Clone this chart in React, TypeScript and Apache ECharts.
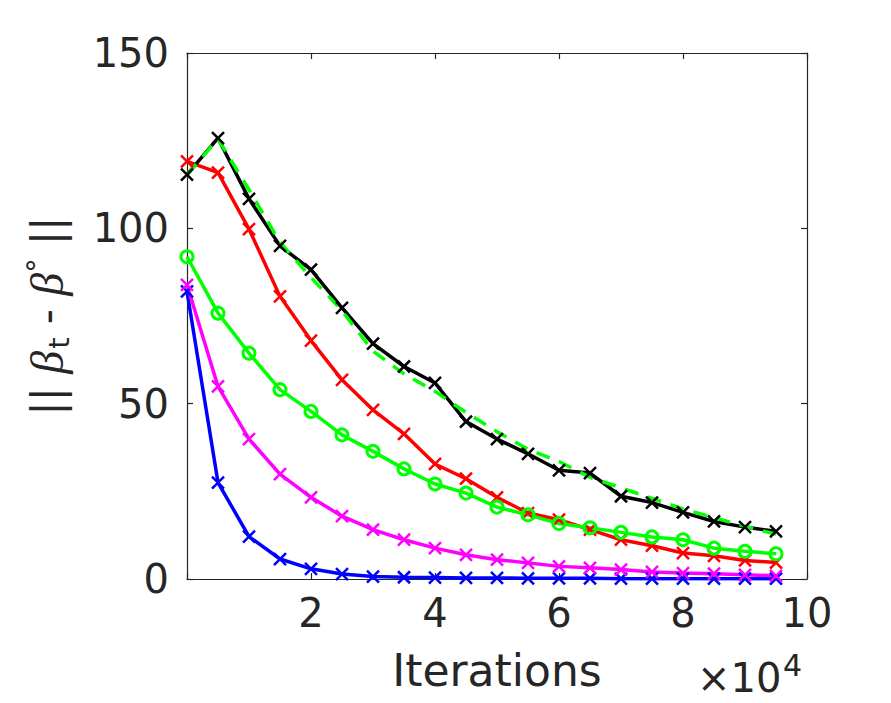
import React, { useEffect, useRef } from 'react';
import * as echarts from 'echarts';

// x in units of 10^4 iterations
const iterations = [0, 0.5, 1, 1.5, 2, 2.5, 3, 3.5, 4, 4.5, 5, 5.5, 6, 6.5, 7, 7.5, 8, 8.5, 9, 9.5];
const xTicks = [0, 2, 4, 6, 8, 10];
const yTicks = [0, 50, 100, 150];

const blueErr = [82.0, 27.5, 12.1, 5.7, 2.9, 1.4, 0.7, 0.5, 0.4, 0.3, 0.3, 0.2, 0.2, 0.2, 0.1, 0.1, 0.1, 0.1, 0.1, 0.1];
const magentaErr = [83.9, 54.9, 39.9, 29.9, 23.3, 17.9, 14.1, 11.2, 8.8, 6.9, 5.5, 4.6, 3.6, 3.2, 2.7, 2.0, 1.7, 1.5, 1.2, 0.9];
const redErr = [119.1, 115.9, 99.8, 80.6, 68.0, 56.8, 48.2, 41.4, 32.8, 28.6, 23.3, 18.8, 16.9, 14.1, 11.2, 9.5, 7.4, 6.6, 5.3, 4.7];
const greenCircleErr = [91.9, 75.8, 64.4, 54.0, 47.8, 41.1, 36.4, 31.4, 27.1, 24.5, 20.5, 18.3, 15.8, 14.6, 13.3, 12.0, 11.2, 8.8, 7.9, 7.2];
const blackErr = [115.3, 125.7, 108.4, 95.0, 88.2, 77.3, 67.1, 60.6, 55.9, 44.9, 39.9, 35.7, 31.0, 30.2, 23.6, 21.8, 19.0, 16.4, 14.8, 13.6];
const greenDashedErr = [115.3, 125.5, 111.0, 96.0, 86.0, 76.5, 65.0, 58.5, 53.5, 47.5, 42.0, 37.0, 33.5, 29.0, 26.0, 23.0, 20.0, 17.5, 15.0, 12.8];

const AX = '#262626';
const FONT = 'DejaVu Sans';
const CROSS = 'path://M0,0L10,10M0,10L10,0';

const pairs = (ys: number[]) => iterations.map((x, i) => [x, ys[i]]);

export default function App() {
  const ref = useRef<HTMLDivElement>(null);
  useEffect(() => {
    const chart = echarts.init(ref.current!, null, { renderer: 'svg' });
    const crossSeries = (name: string, color: string, ys: number[]) => ({
      name,
      type: 'line',
      data: pairs(ys),
      symbol: CROSS,
      symbolSize: 12,
      showSymbol: true,
      lineStyle: { color, width: 3.5 },
      itemStyle: { color, borderColor: color, borderWidth: 2.5 },
    });
    const baseX = {
      type: 'value',
      min: xTicks[0],
      max: xTicks[xTicks.length - 1],
      interval: 2,
      splitLine: { show: false },
      axisLine: { show: true, onZero: false, lineStyle: { color: AX, width: 1.2 } },
      axisTick: { show: true, inside: true, length: 6, lineStyle: { color: AX, width: 1.2 } },
    };
    const baseY = {
      type: 'value',
      min: yTicks[0],
      max: yTicks[yTicks.length - 1],
      interval: 50,
      splitLine: { show: false },
      axisLine: { show: true, onZero: false, lineStyle: { color: AX, width: 1.2 } },
      axisTick: { show: true, inside: true, length: 6, lineStyle: { color: AX, width: 1.2 } },
    };
    chart.setOption({
      animation: false,
      backgroundColor: '#ffffff',
      grid: { left: 187, right: 84, top: 53, bottom: 124, containLabel: false },
      xAxis: [
        {
          ...baseX,
          position: 'bottom',
          name: 'Iterations',
          nameLocation: 'middle',
          nameGap: 69,
          nameTextStyle: { fontFamily: FONT, fontSize: 44, color: AX },
          axisLabel: {
            show: true,
            margin: 14,
            fontFamily: FONT,
            fontSize: 40,
            color: AX,
            formatter: (v: number) => (v === 0 ? '' : String(v)),
          },
        },
        { ...baseX, position: 'top', axisLabel: { show: false } },
      ],
      yAxis: [
        {
          ...baseY,
          position: 'left',
          name: '{bar|||} {beta|β}{sub|t}{bar| - }{beta|β}{sup|°}{bar| ||}',
          nameLocation: 'middle',
          nameRotate: 90,
          nameGap: 114,
          nameTextStyle: {
            fontFamily: FONT,
            fontSize: 42,
            color: AX,
            rich: {
              bar: { fontFamily: FONT, fontSize: 42, color: AX, verticalAlign: 'middle' },
              beta: { fontFamily: 'Liberation Serif', fontStyle: 'italic', fontSize: 46, color: AX, verticalAlign: 'middle' },
              sub: { fontFamily: FONT, fontSize: 29, color: AX, verticalAlign: 'bottom', padding: [22, 0, 0, 2] },
              sup: { fontFamily: FONT, fontSize: 29, color: AX, verticalAlign: 'top', padding: [0, 0, 22, 0] },
            },
          },
          axisLabel: { show: true, margin: 18, fontFamily: FONT, fontSize: 40, color: AX },
        },
        { ...baseY, position: 'right', axisLabel: { show: false } },
      ],
      graphic: [
        {
          type: 'text',
          left: 697,
          top: 658,
          style: { text: '×10', fontFamily: FONT, fontSize: 40, fill: AX },
        },
        {
          type: 'text',
          left: 783,
          top: 650,
          style: { text: '4', fontFamily: FONT, fontSize: 30, fill: AX },
        },
      ],
      series: [
        crossSeries('blue', '#0000ff', blueErr),
        crossSeries('magenta', '#ff00ff', magentaErr),
        crossSeries('red', '#ff0000', redErr),
        {
          name: 'greenCircle',
          type: 'line',
          data: pairs(greenCircleErr),
          symbol: 'circle',
          symbolSize: 12,
          showSymbol: true,
          lineStyle: { color: '#00ff00', width: 3.5 },
          itemStyle: { color: 'rgba(0,0,0,0)', borderColor: '#00ff00', borderWidth: 3 },
        },
        crossSeries('black', '#000000', blackErr),
        {
          name: 'greenDashed',
          type: 'line',
          data: pairs(greenDashedErr),
          showSymbol: false,
          symbol: 'none',
          lineStyle: { color: '#00ff00', width: 3.5, type: [14, 10] },
        },
      ],
    });
    return () => chart.dispose();
  }, []);
  return <div ref={ref} style={{ position: 'absolute', left: 0, top: 0, width: 891, height: 703 }} />;
}
